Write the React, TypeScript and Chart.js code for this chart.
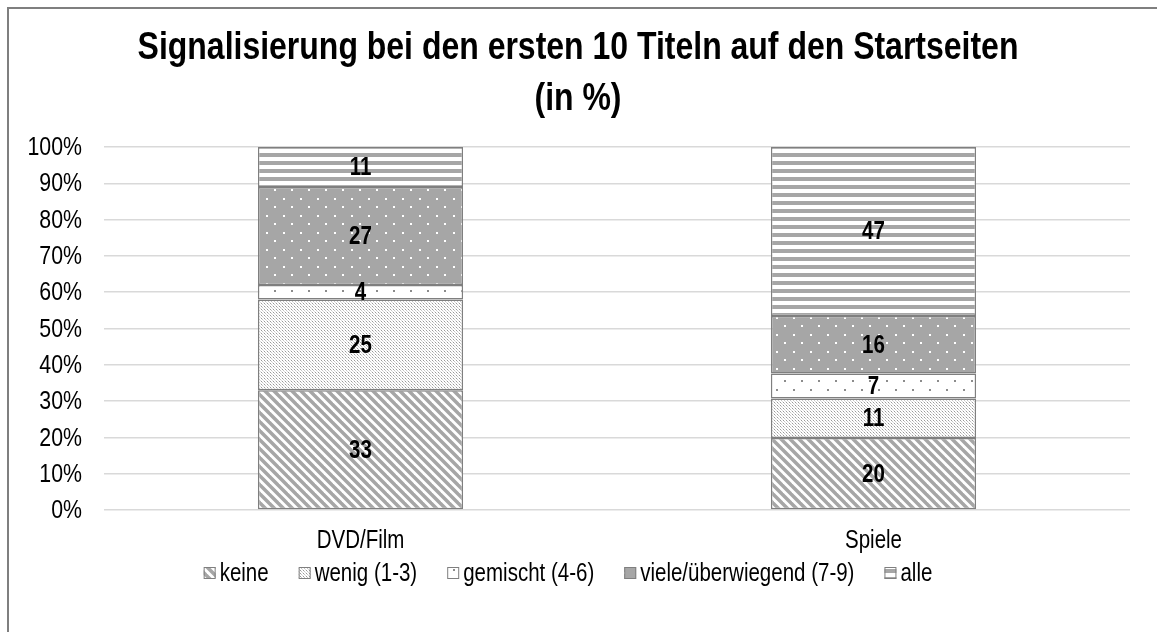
import React, { useEffect, useRef } from "react";
import { Chart, registerables } from "chart.js";
Chart.register(...registerables);

const categories = ["DVD/Film", "Spiele"];
const seriesNames = ["keine", "wenig (1-3)", "gemischt (4-6)", "viele/überwiegend (7-9)", "alle"];
const keine = [33, 20];
const wenig = [25, 11];
const gemischt = [4, 7];
const viele = [27, 16];
const alle = [11, 47];
const titleLines = ["Signalisierung bei den ersten 10 Titeln auf den Startseiten", "(in %)"];
const yMax = 100;
const yStep = 10;

const FONT = "'Liberation Sans', Arial, sans-serif";
const NARROW = 0.82;
const GRAY = "#a6a6a6";

function makePattern(kind: string): CanvasPattern | string {
  const t = document.createElement("canvas");
  const c = t.getContext("2d")!;
  if (kind === "diag") {
    const s = 9;
    t.width = s; t.height = s;
    c.fillStyle = "#fff"; c.fillRect(0, 0, s, s);
    c.strokeStyle = GRAY; c.lineWidth = 3.5;
    for (let k = -1; k <= 1; k++) {
      c.beginPath(); c.moveTo(-2, -2 + k * s); c.lineTo(s + 2, s + 2 + k * s); c.stroke();
    }
  } else if (kind === "fine") {
    t.width = 3; t.height = 3;
    c.fillStyle = "#fff"; c.fillRect(0, 0, 3, 3);
    c.fillStyle = "#999"; c.fillRect(0, 0, 1, 1);
    c.fillStyle = "#c4c4c4"; c.fillRect(1, 1, 1, 1);
    c.fillStyle = "#dadada"; c.fillRect(2, 2, 1, 1);
  } else if (kind === "sparse") {
    t.width = 17; t.height = 18;
    c.fillStyle = "#fff"; c.fillRect(0, 0, 17, 18);
    c.fillStyle = "#8c8c8c"; c.fillRect(2, 2, 2, 2); c.fillRect(10, 11, 2, 2);
  } else if (kind === "grayDots") {
    t.width = 17; t.height = 17;
    c.fillStyle = GRAY; c.fillRect(0, 0, 17, 17);
    c.fillStyle = "#fff"; c.fillRect(2, 2, 2, 2); c.fillRect(10, 10, 2, 2);
  } else {
    t.width = 4; t.height = 8;
    c.fillStyle = "#fff"; c.fillRect(0, 0, 4, 8);
    c.fillStyle = GRAY; c.fillRect(0, 0, 4, 4);
  }
  const p = c.createPattern(t, "repeat");
  return p || GRAY;
}

function narrowText(ctx: CanvasRenderingContext2D, text: string, x: number, y: number, align: CanvasTextAlign) {
  ctx.save();
  ctx.translate(x, y);
  ctx.scale(NARROW, 1);
  ctx.textAlign = align;
  ctx.fillText(text, 0, 0);
  ctx.restore();
}

export default function App() {
  const ref = useRef<HTMLCanvasElement>(null);
  useEffect(() => {
    const canvas = ref.current!;
    const series = [keine, wenig, gemischt, viele, alle];
    const kinds = ["diag", "fine", "sparse", "grayDots", "hstripe"];
    const patterns = kinds.map(makePattern);
    const totals = categories.map((_, i) => series.reduce((s, arr) => s + arr[i], 0));
    const datasets = series.map((arr, si) => ({
      label: seriesNames[si],
      data: arr.map((v, i) => (v * 100) / totals[i]),
      rawValues: arr,
      backgroundColor: patterns[si] as any,
      borderColor: "#7f7f7f",
      borderWidth: 1.5,
      borderSkipped: false as any,
      barPercentage: 0.4,
      categoryPercentage: 1,
    }));

    const textPlugin = {
      id: "narrowTexts",
      afterDraw(chart: any) {
        const ctx: CanvasRenderingContext2D = chart.ctx;
        ctx.save();
        ctx.fillStyle = "#000";
        ctx.textBaseline = "middle";

        // title
        ctx.font = `bold 39px ${FONT}`;
        narrowText(ctx, titleLines[0], chart.width / 2 - 5, 39, "center");
        narrowText(ctx, titleLines[1], chart.width / 2 - 5, 90, "center");

        // y ticks
        ctx.font = `26px ${FONT}`;
        const ys = chart.scales.y;
        ys.ticks.forEach((t: any) => {
          narrowText(ctx, `${t.value}%`, chart.chartArea.left - 22, ys.getPixelForValue(t.value) + 1, "right");
        });

        // x ticks
        ctx.font = `25px ${FONT}`;
        const xs = chart.scales.x;
        categories.forEach((c, i) => {
          narrowText(ctx, c, xs.getPixelForValue(i), 532, "center");
        });

        // value labels
        ctx.font = `bold 25px ${FONT}`;
        chart.data.datasets.forEach((ds: any, di: number) => {
          const meta = chart.getDatasetMeta(di);
          meta.data.forEach((el: any, i: number) => {
            const y = (el.y + el.base) / 2;
            narrowText(ctx, String(ds.rawValues[i]), el.x, y + 1, "center");
          });
        });

        // legend
        ctx.font = `25px ${FONT}`;
        const box = 12, gapText = 4, gapItem = 30;
        const widths = seriesNames.map((n) => box + gapText + ctx.measureText(n).width * NARROW);
        const total = widths.reduce((a, b) => a + b, 0) + gapItem * (widths.length - 1);
        let x = chart.width / 2 - 15 - total / 2;
        const yc = 564;
        seriesNames.forEach((n, i) => {
          ctx.fillStyle = patterns[i] as any;
          ctx.fillRect(x, yc - box / 2, box, box);
          ctx.strokeStyle = "#7f7f7f";
          ctx.lineWidth = 1;
          ctx.strokeRect(x + 0.5, yc - box / 2 + 0.5, box - 1, box - 1);
          ctx.fillStyle = "#000";
          narrowText(ctx, n, x + box + gapText, yc + 1, "left");
          x += widths[i] + gapItem;
        });
        ctx.restore();
      },
    };

    const chart = new Chart(canvas, {
      type: "bar",
      data: { labels: categories, datasets: datasets as any },
      options: {
        animation: false,
        responsive: false,
        maintainAspectRatio: false,
        layout: { padding: { top: 138, left: 0, right: 27, bottom: 0 } },
        plugins: {
          title: { display: false },
          legend: { display: false },
          tooltip: { enabled: false },
        },
        scales: {
          x: {
            stacked: true,
            grid: { display: false },
            border: { display: false },
            ticks: { display: false },
            afterFit: (s: any) => { s.height = 122; },
          },
          y: {
            stacked: true,
            min: 0,
            max: yMax,
            grid: { color: "#d9d9d9", lineWidth: 1.5, drawTicks: false },
            border: { display: false },
            ticks: { stepSize: yStep, display: false },
            afterFit: (s: any) => { s.width = 95; },
          },
        },
      } as any,
      plugins: [textPlugin],
    });
    return () => chart.destroy();
  }, []);

  return (
    <div
      style={{
        position: "absolute",
        left: 7,
        top: 7,
        width: 1150,
        height: 625,
        borderTop: "2px solid #7f7f7f",
        borderLeft: "2px solid #7f7f7f",
        boxSizing: "border-box",
        background: "#fff",
      }}
    >
      <canvas ref={ref} width={1148} height={623} style={{ display: "block", width: 1148, height: 623 }} />
    </div>
  );
}
